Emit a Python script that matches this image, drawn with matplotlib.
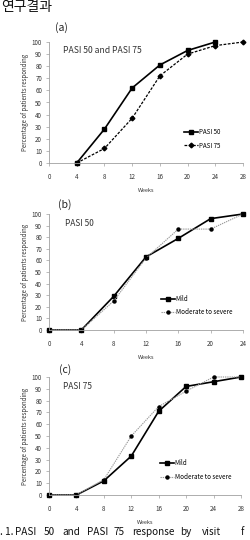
import matplotlib
matplotlib.use("Agg")
import matplotlib.pyplot as plt

plt.rcParams['font.family'] = ['Noto Sans CJK KR', 'DejaVu Sans']

# Panel (a)
a_weeks50 = [4, 8, 12, 16, 20, 24]
a_pasi50 = [0, 28, 62, 81, 93, 100]
a_weeks75 = [4, 8, 12, 16, 20, 24, 28]
a_pasi75 = [0, 12, 37, 72, 90, 97, 100]
a_xticks = [0, 4, 8, 12, 16, 20, 24, 28]

# Panel (b) PASI 50
b_weeks = [0, 4, 8, 12, 16, 20, 24]
b_mild = [0, 0, 29, 63, 79, 96, 100]
b_mod = [0, 0, 25, 62, 87, 87, 100]
b_xticks = [0, 4, 8, 12, 16, 20, 24]

# Panel (c) PASI 75
c_weeks = [0, 4, 8, 12, 16, 20, 24, 28]
c_mild = [0, 0, 12, 33, 71, 92, 96, 100]
c_mod = [0, 0, 13, 50, 75, 88, 100, 100]
c_xticks = [0, 4, 8, 12, 16, 20, 24, 28]

yticks = list(range(0, 101, 10))

caption_words = ['. 1.', 'PASI', '50', 'and', 'PASI', '75', 'response', 'by', 'visit', 'f']

W, H = 251, 540
fig = plt.figure(figsize=(W / 100, H / 100), dpi=100)

def box(l, t, r, b):
    return [l / W, 1 - b / H, (r - l) / W, (b - t) / H]

def style(ax, xticks, xmax):
    ax.set_xlim(0, xmax)
    ax.set_ylim(0, 100)
    ax.set_xticks(xticks)
    ax.set_yticks(yticks)
    for s in ['top', 'right']:
        ax.spines[s].set_visible(False)
    for s in ['left', 'bottom']:
        ax.spines[s].set_color('#a0a0a0')
        ax.spines[s].set_linewidth(0.6)
    ax.tick_params(axis='both', labelsize=4.5, colors='#a0a0a0', labelcolor='#333333',
                   length=2, width=0.5)
    ax.tick_params(axis='x', pad=5)
    ax.tick_params(axis='y', pad=3)
    ax.set_xlabel('Weeks', fontsize=4.0, color='#333333', labelpad=5)
    ax.set_ylabel('Percentage of patients responding', fontsize=4.4, color='#333333', labelpad=2)
    ax.patch.set_alpha(0)

leg_kw = dict(frameon=False, fontsize=4.5, handlelength=2.3, handletextpad=0.1,
              labelspacing=0.9, borderpad=0)
mod_kw = dict(color='#9a9a9a', lw=0.8, ls=(0, (1.2, 0.8)), marker='o', ms=2.2,
              mfc='black', mec='black', clip_on=False)
mild_kw = dict(color='black', lw=1.2, marker='s', ms=2.8, clip_on=False)

# (a)
ax1 = fig.add_axes(box(49, 42, 243, 163))
ax1.plot(a_weeks50, a_pasi50, label='PASI 50', **mild_kw)
ax1.plot(a_weeks75, a_pasi75, color='black', lw=0.9, ls=(0, (2.2, 1.2)), marker='D', ms=2.4,
         clip_on=False, label='PASI 75')
style(ax1, a_xticks, 28)
ax1.text(0.07, 0.93, 'PASI 50 and PASI 75', transform=ax1.transAxes, fontsize=6.2, color='#333333',
         va='center', ha='left')
ax1.legend(loc='center left', bbox_to_anchor=(0.68, 0.20), **leg_kw)

# (b)
ax2 = fig.add_axes(box(49, 214, 243, 330))
ax2.plot(b_weeks, b_mild, label='Mild', **mild_kw)
ax2.plot(b_weeks, b_mod, label='Moderate to severe', **mod_kw)
style(ax2, b_xticks, 24)
ax2.text(0.085, 0.92, 'PASI 50', transform=ax2.transAxes, fontsize=6, color='#333333',
         va='center', ha='left')
ax2.legend(loc='center left', bbox_to_anchor=(0.56, 0.21), **leg_kw)

# (c)
ax3 = fig.add_axes(box(49, 377, 241, 495))
ax3.plot(c_weeks, c_mild, label='Mild', **mild_kw)
ax3.plot(c_weeks, c_mod, label='Moderate to severe', **mod_kw)
style(ax3, c_xticks, 28)
ax3.text(0.075, 0.92, 'PASI 75', transform=ax3.transAxes, fontsize=6, color='#333333',
         va='center', ha='left')
ax3.legend(loc='center left', bbox_to_anchor=(0.56, 0.21), **leg_kw)

# panel labels
fig.text(55 / W, 1 - 28 / H, '(a)', fontsize=7.5, ha='left', va='center', color='#222222')
fig.text(58 / W, 1 - 205 / H, '(b)', fontsize=7.5, ha='left', va='center', color='#222222')
fig.text(59 / W, 1 - 370 / H, '(c)', fontsize=7.5, ha='left', va='center', color='#222222')

# title and caption
fig.text(1 / W, 1 - 7 / H, '연구결과', fontsize=10, fontweight='medium', ha='left', va='center',
         color='#111111')
caption_x = [0, 15, 44, 62, 87, 114, 132, 180, 202, 241]
for w, x in zip(caption_words, caption_x):
    fig.text(x / W, 1 - 532 / H, w, fontsize=7.2, ha='left', va='center', color='#111111')

fig.savefig('out.png', dpi=100)
